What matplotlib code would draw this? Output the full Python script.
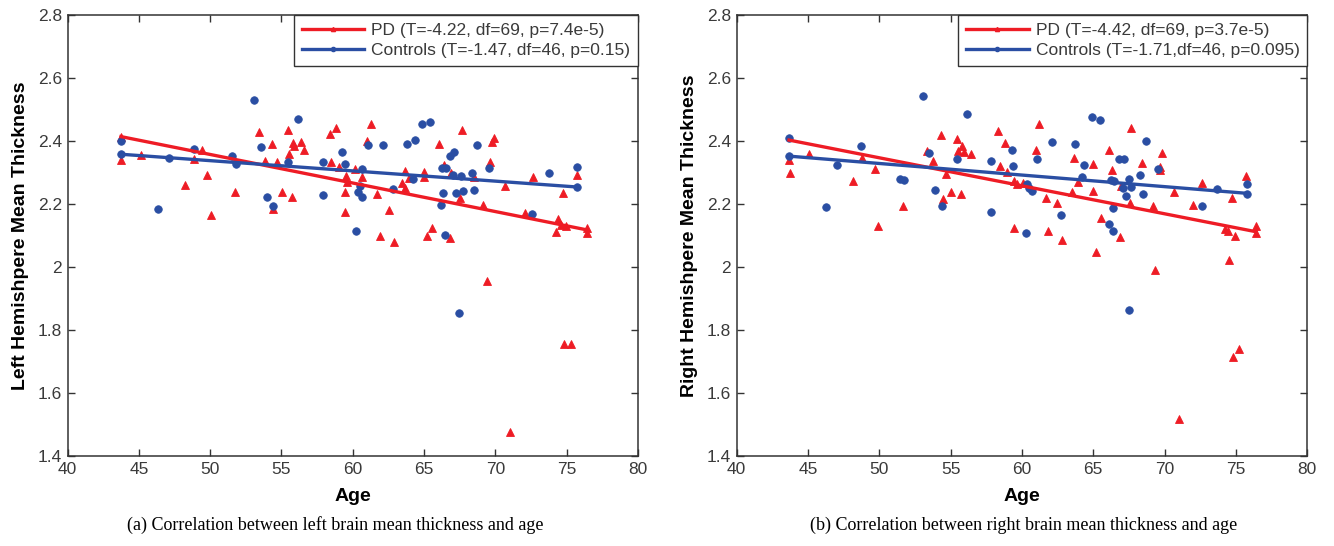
import matplotlib
import numpy as np

matplotlib.use("Agg")
import matplotlib.pyplot as plt
from matplotlib.lines import Line2D

# left hemisphere, PD group
left_pd_age = [43.75, 43.75, 45.18, 48.85, 49.41, 48.26, 49.78, 50.04, 51.72, 53.43,
               54.34, 55.48, 55.83, 55.88, 56.40, 56.58, 55.55, 53.87, 54.72, 55.02,
               55.72, 54.43, 58.41, 58.81, 58.50, 59.04, 59.51, 59.62, 59.48, 59.48,
               60.19, 60.65, 61.26, 60.98, 61.70, 61.90, 66.07, 67.64, 69.74, 69.88,
               69.63, 66.38, 66.92, 63.69, 65.02, 65.02, 63.97, 63.48, 63.64, 62.57,
               62.86, 65.17, 65.56, 66.85, 67.55, 68.53, 69.16, 70.64, 72.62, 72.08,
               74.72, 75.70, 74.39, 74.58, 74.96, 74.25, 76.40, 76.40, 69.40, 74.80,
               75.30, 71.00]
left_pd_thick = [2.414, 2.340, 2.356, 2.342, 2.371, 2.259, 2.293, 2.164, 2.239, 2.428,
                 2.390, 2.434, 2.395, 2.384, 2.397, 2.371, 2.360, 2.336, 2.333, 2.239,
                 2.222, 2.183, 2.421, 2.442, 2.332, 2.318, 2.290, 2.271, 2.239, 2.175,
                 2.310, 2.286, 2.455, 2.400, 2.233, 2.098, 2.389, 2.434, 2.398, 2.408,
                 2.334, 2.323, 2.297, 2.306, 2.303, 2.285, 2.284, 2.266, 2.250, 2.181,
                 2.080, 2.100, 2.123, 2.092, 2.218, 2.285, 2.197, 2.258, 2.286, 2.173,
                 2.235, 2.292, 2.151, 2.133, 2.131, 2.110, 2.123, 2.109, 1.955, 1.755,
                 1.755, 1.475]

# left hemisphere, controls
left_ctl_age = [43.75, 43.75, 53.08, 56.14, 53.59, 48.85, 47.14, 51.54, 51.84, 55.44,
                57.92, 59.27, 59.46, 60.67, 61.05, 46.32, 54.01, 54.43, 57.92, 60.49,
                60.35, 60.67, 60.26, 62.15, 64.88, 65.44, 63.83, 64.37, 62.83, 64.21,
                66.82, 67.13, 66.26, 66.56, 67.03, 67.57, 68.39, 68.74, 69.58, 66.36,
                67.24, 67.76, 68.51, 66.19, 66.45, 72.57, 73.74, 75.73, 75.73, 67.45]
left_ctl_thick = [2.401, 2.358, 2.530, 2.470, 2.381, 2.375, 2.347, 2.353, 2.326, 2.333,
                  2.333, 2.364, 2.327, 2.312, 2.388, 2.183, 2.221, 2.194, 2.228, 2.258,
                  2.238, 2.221, 2.115, 2.387, 2.453, 2.459, 2.391, 2.404, 2.249, 2.278,
                  2.353, 2.364, 2.315, 2.313, 2.292, 2.288, 2.299, 2.387, 2.315, 2.234,
                  2.234, 2.241, 2.244, 2.197, 2.102, 2.169, 2.299, 2.316, 2.254, 1.855]

# right hemisphere, PD group
right_pd_age = [43.68, 43.75, 45.11, 48.17, 49.71, 49.95, 48.78, 51.65, 54.34, 53.38,
                53.80, 55.42, 55.79, 55.49, 55.93, 56.45, 54.65, 54.48, 55.02, 55.70,
                58.32, 58.78, 58.45, 58.95, 59.48, 59.65, 60.09, 59.42, 61.00, 61.19,
                61.70, 62.49, 61.86, 62.78, 63.62, 65.00, 66.10, 66.31, 67.64, 63.50,
                63.95, 65.00, 65.54, 65.19, 66.85, 66.97, 67.55, 68.42, 69.17, 69.80,
                69.66, 69.70, 69.30, 70.64, 72.02, 72.65, 74.50, 74.71, 74.24, 74.43,
                74.94, 75.71, 76.41, 76.41, 71.00, 74.80, 75.20]
right_pd_thick = [2.340, 2.299, 2.359, 2.272, 2.310, 2.131, 2.347, 2.194, 2.419, 2.368,
                  2.336, 2.405, 2.384, 2.368, 2.365, 2.358, 2.294, 2.217, 2.237, 2.231,
                  2.433, 2.395, 2.320, 2.303, 2.274, 2.265, 2.267, 2.125, 2.370, 2.453,
                  2.220, 2.202, 2.114, 2.087, 2.346, 2.327, 2.370, 2.308, 2.442, 2.238,
                  2.269, 2.242, 2.157, 2.047, 2.095, 2.258, 2.203, 2.331, 2.194, 2.361,
                  2.316, 2.308, 1.990, 2.239, 2.197, 2.266, 2.022, 2.220, 2.121, 2.114,
                  2.098, 2.289, 2.131, 2.109, 1.517, 1.713, 1.740]

# right hemisphere, controls
right_ctl_age = [43.68, 43.68, 53.06, 56.14, 48.73, 47.05, 46.30, 51.49, 51.75, 53.52,
                 55.44, 53.90, 54.37, 57.80, 59.30, 59.37, 57.80, 60.28, 60.35, 60.51,
                 60.68, 61.05, 62.12, 63.70, 64.88, 65.44, 64.35, 64.19, 62.73, 66.38,
                 66.12, 66.36, 66.80, 67.15, 66.24, 66.47, 67.06, 67.50, 67.66, 67.28,
                 68.29, 68.46, 68.67, 69.51, 72.62, 73.67, 75.75, 75.75, 67.50]
right_ctl_thick = [2.410, 2.352, 2.544, 2.486, 2.384, 2.325, 2.191, 2.280, 2.277, 2.363,
                   2.342, 2.243, 2.195, 2.335, 2.373, 2.320, 2.175, 2.107, 2.265, 2.252,
                   2.240, 2.344, 2.397, 2.390, 2.476, 2.468, 2.325, 2.286, 2.165, 2.186,
                   2.135, 2.114, 2.342, 2.342, 2.276, 2.273, 2.250, 2.281, 2.253, 2.226,
                   2.291, 2.233, 2.400, 2.311, 2.193, 2.247, 2.262, 2.232, 1.863]

# regression lines (end points)
left_pd_fit_age = [43.75, 76.40]
left_pd_fit = [2.414, 2.118]
left_ctl_fit_age = [43.75, 75.73]
left_ctl_fit = [2.358, 2.254]
right_pd_fit_age = [43.68, 76.41]
right_pd_fit = [2.403, 2.112]
right_ctl_fit_age = [43.68, 75.75]
right_ctl_fit = [2.352, 2.234]

left_legend = ["PD (T=-4.22, df=69, p=7.4e-5)", "Controls (T=-1.47, df=46, p=0.15)"]
right_legend = ["PD (T=-4.42, df=69, p=3.7e-5)", "Controls (T=-1.71,df=46, p=0.095)"]
y_labels = ["Left Hemishpere Mean Thickness", "Right Hemishpere Mean Thickness"]
captions = ["(a) Correlation between left brain mean thickness and age",
            "(b) Correlation between right brain mean thickness and age"]

RED = "#ee1c25"
BLUE = "#2a4ea3"
SANS = ["Liberation Sans", "DejaVu Sans"]

plt.rcParams["font.family"] = SANS

figure = plt.figure(figsize=(13.34, 5.46), dpi=100)
axes = [
    figure.add_axes([0.0506, 0.1648, 0.4277, 0.8077]),
    figure.add_axes([0.5521, 0.1648, 0.4279, 0.8077]),
]

panels = [
    (left_pd_age, left_pd_thick, left_ctl_age, left_ctl_thick,
     left_pd_fit_age, left_pd_fit, left_ctl_fit_age, left_ctl_fit, left_legend),
    (right_pd_age, right_pd_thick, right_ctl_age, right_ctl_thick,
     right_pd_fit_age, right_pd_fit, right_ctl_fit_age, right_ctl_fit, right_legend),
]

for index, (axis, panel) in enumerate(zip(axes, panels)):
    pd_age, pd_thick, ctl_age, ctl_thick, pd_fx, pd_fy, ctl_fx, ctl_fy, legend = panel

    axis.plot(pd_age, pd_thick, linestyle="none", marker="^", markersize=5.8,
              color=RED, markeredgewidth=0.6)
    axis.plot(ctl_age, ctl_thick, linestyle="none", marker="o", markersize=5.4,
              color=BLUE, markeredgewidth=0.6)
    axis.plot(pd_fx, pd_fy, color=RED, linewidth=2.4)
    axis.plot(ctl_fx, ctl_fy, color=BLUE, linewidth=2.4)

    axis.set_xlim(40, 80)
    axis.set_ylim(1.4, 2.8)
    axis.set_xticks(np.arange(40, 81, 5))
    axis.set_yticks(np.arange(1.4, 2.81, 0.2))
    axis.set_yticklabels([f"{v:g}" for v in np.round(np.arange(1.4, 2.81, 0.2), 1)])
    axis.tick_params(direction="in", top=True, right=True, length=5, width=1,
                     labelsize=12.5, labelcolor="#3a3a3a", color="#333333", pad=4)
    for spine in axis.spines.values():
        spine.set_color("#333333")
        spine.set_linewidth(1.1)

    axis.set_xlabel("Age", fontsize=14, fontweight="bold", labelpad=8)
    axis.set_ylabel(y_labels[index], fontsize=14, fontweight="bold", labelpad=6)

    handles = [
        Line2D([], [], color=RED, linewidth=2.4, marker="^", markersize=3),
        Line2D([], [], color=BLUE, linewidth=2.4, marker="o", markersize=3),
    ]
    leg = axis.legend(handles, legend, loc="upper right", fontsize=12.5,
                      borderaxespad=0, fancybox=False, framealpha=1,
                      edgecolor="#333333", handlelength=3.6, handletextpad=0.4,
                      borderpad=0.45, labelspacing=0.3, labelcolor="#3a3a3a")
    leg.get_frame().set_linewidth(1.0)

figure.text(0.251, 0.038, captions[0], ha="center", va="center", fontsize=13,
            family=["Liberation Serif", "DejaVu Serif"])
figure.text(0.767, 0.038, captions[1], ha="center", va="center", fontsize=13,
            family=["Liberation Serif", "DejaVu Serif"])

figure.savefig("out.png", dpi=100)
